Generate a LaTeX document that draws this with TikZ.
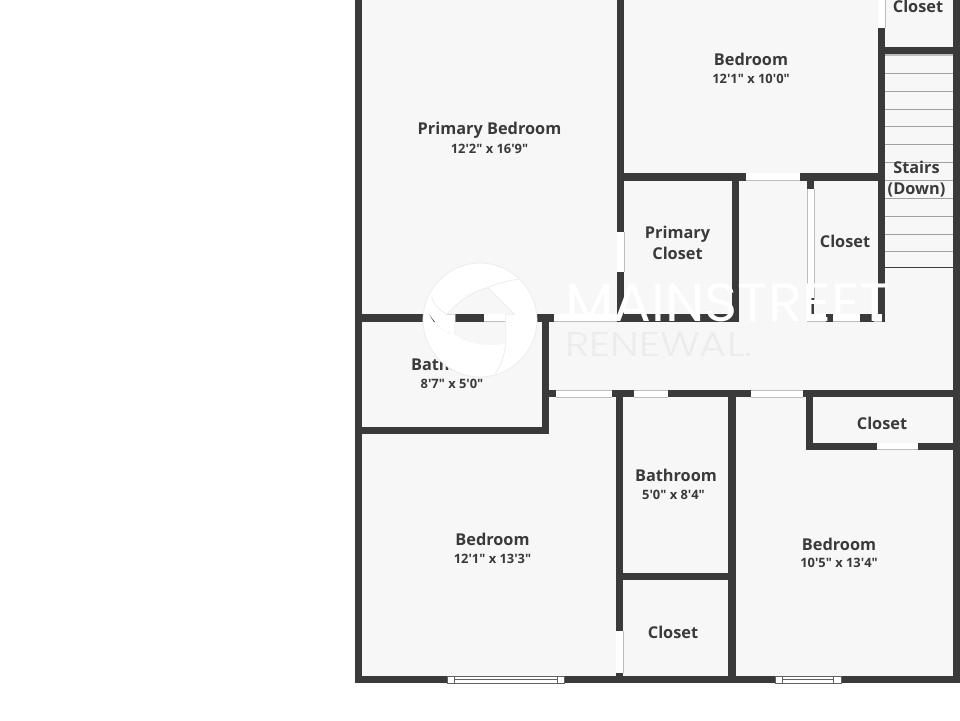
\documentclass[tikz,border=0pt]{standalone}
\usepackage{fontspec}
\usepackage{graphicx}
\setmainfont{Open Sans}
\newfontfamily\lblfont{Open Sans}
\newfontfamily\wmfont{Poppins}
\newfontfamily\wmthin{Poppins Light}
\definecolor{floorc}{HTML}{F7F7F7}
\definecolor{wallc}{HTML}{3A3A3A}
\definecolor{edgec}{HTML}{BDBDBD}
\definecolor{inkc}{HTML}{3A3A3A}
\definecolor{wmc}{HTML}{ECECEC}
\newcommand\wallbox[4]{\fill[wallfill] (#1,#2) rectangle (#3,#4);}
\newcommand\doorh[3]{\fill[white] (#1,#3-7.5) rectangle (#2,#3); \draw[dooredge] (#1,#3) -- (#2,#3);}
\newcommand\doorv[3]{\fill[white] (#1-7.5,#2) rectangle (#1,#3); \draw[dooredge] (#1,#2) -- (#1,#3);}
\newcommand\winbox[4]{\fill[white] (#1,676) rectangle (#4,683);
  \draw[winline] (#1,676) rectangle (#4,683.4);
  \draw[winline] (#2,676) -- (#2,683.4) (#3,676) -- (#3,683.4);
  \draw[winline] (#2,679) -- (#3,679);}
\tikzset{
  wallfill/.style={fill=wallc},
  dooredge/.style={draw=edgec,line width=.8pt},
  winline/.style={draw=wallc!80,line width=.6pt},
  treadline/.style={draw=edgec!85!black,line width=.9pt},
  roomname/.style={text=inkc,font=\lblfont\bfseries\fontsize{16.3}{20}\selectfont,inner sep=0pt,align=center},
  roomdim/.style={text=inkc,font=\lblfont\bfseries\fontsize{12.9}{15}\selectfont,inner sep=0pt},
  logoline/.style={draw=wmc,line width=.8pt},
}
\begin{document}
\begin{tikzpicture}[x=1pt,y=-1pt]
\useasboundingbox (0,0) rectangle (960,720);
\fill[white] (0,0) rectangle (960,720);
\fill[floorc] (355,0) rectangle (960,683);
% outer walls
\wallbox{355}{0}{362}{683}
\wallbox{355}{676}{960}{683}
\wallbox{953}{0}{960}{683}
% main vertical walls
\wallbox{617}{0}{624}{321}
\doorv{624.5}{232}{272}
\wallbox{878}{0}{885}{321}
\fill[white] (878,0) rectangle (885,28);
\draw[dooredge] (885,0) -- (885,28);
\wallbox{885}{47}{953}{54}
% stairs
\draw[edgec,line width=1.4pt] (885,55) -- (953,55);
\foreach \yy in {73,91,109,126.5,144,162,180,198,216,234,251}
  \draw[treadline] (885,\yy) -- (953,\yy);
\draw[wallc,line width=1pt] (885,267.5) -- (953,267.5);
% closets top row
\wallbox{617}{173}{885}{181}
\fill[white] (746,173) rectangle (800,180.5);
\draw[dooredge] (746,180.5) -- (800,180.5);
\wallbox{732}{181}{739}{321}
\wallbox{807}{181}{814}{189}
\fill[white] (807,189) rectangle (814,300);
\draw[dooredge] (807,189) -- (807,300) (814,189) -- (814,300);
\wallbox{807}{298}{814}{321}
% wall y 314-321
\wallbox{362}{314}{617}{321.5}
\doorh{484}{537}{321.5}
\doorh{554}{617}{321.5}
\wallbox{617}{314}{739}{321.5}
\wallbox{807}{314}{885}{321.5}
\doorh{807}{826}{321.5}
\doorh{833}{860}{321.5}
\doorh{874}{882}{321.5}
% bath
\wallbox{542}{314}{549}{433}
\wallbox{362}{426.5}{549}{433.5}
% hall lower wall
\wallbox{549}{390}{953}{397}
\fill[white] (556,390) rectangle (612,397);
\draw[dooredge] (556,390) -- (612,390) (556,397) -- (612,397);
\fill[white] (634,390) rectangle (668,397);
\draw[dooredge] (634,390) -- (668,390) (634,397) -- (668,397);
\fill[white] (751,390) rectangle (803,397);
\draw[dooredge] (751,390) -- (803,390) (751,397) -- (803,397);
% lower verticals
\wallbox{616}{397}{623}{676}
\fill[white] (616,631) rectangle (623,673);
\draw[dooredge] (623,631) -- (623,673);
\wallbox{728}{397}{736}{676}
\wallbox{623}{572.5}{728}{579.5}
% lower right closet
\wallbox{806}{397}{813}{450}
\wallbox{806}{442.5}{953}{449.5}
\fill[white] (877,442.5) rectangle (918,449.5);
\draw[dooredge] (877,449.5) -- (918,449.5);
% windows
\winbox{447}{454}{557}{564}
\winbox{775}{782}{833}{841}
% labels
\node[roomname] (n1) at (489.5,130.5) {Primary Bedroom};
\node[roomdim] (d1) at (489.5,148.5) {12'2" x 16'9"};
\node[roomname] (n2) at (751,59) {Bedroom};
\node[roomdim] (d2) at (751,78.5) {12'1" x 10'0"};
\node[roomname] (n3) at (918,6) {Closet};
\node[roomname] (n4) at (916.5,179) {Stairs\\[1pt](Down)};
\node[roomname] (n5) at (677.5,242.5) {Primary\\[1pt]Closet};
\node[roomname] (n6) at (845,241) {Closet};
\node[roomname] (n7) at (452,364.5) {Bathroom};
\node[roomdim] (d7) at (452,383.5) {8'7" x 5'0"};
\node[roomname] (n8) at (882,423) {Closet};
\node[roomname] (n9) at (676,475) {Bathroom};
\node[roomdim] (d9) at (673.5,494.5) {5'0" x 8'4"};
\node[roomname] (n10) at (492.5,539) {Bedroom};
\node[roomdim] (d10) at (492.5,558.5) {12'1" x 13'3"};
\node[roomname] (n11) at (839,544) {Bedroom};
\node[roomdim] (d11) at (839,562.5) {10'5" x 13'4"};
\node[roomname] (n12) at (673,632) {Closet};
% watermark logo
\begin{scope}[shift={(415,255)},x=0.3333pt,y=-0.3333pt]
\fill[white,even odd rule] (195,195) circle[radius=171]
  (218,98) -- (298,178) -- (272,178) -- (272,265) .. controls (240,275) and (170,275) .. (120,240)
  -- (120,178) -- (95,178) .. controls (130,140) and (170,110) .. (218,98) -- cycle
  (30,150) .. controls (45,190) and (75,225) .. (120,240) .. controls (80,235) and (50,205) .. (30,150) -- cycle;
\draw[logoline] (195,195) circle[radius=171];
\draw[logoline] (218,98) .. controls (245,85) and (280,78) .. (310,72);
\draw[logoline] (272,265) .. controls (270,300) and (258,330) .. (240,358);
\draw[logoline] (95,178) .. controls (75,165) and (60,155) .. (50,125);
\draw[logoline] (218,98) -- (298,178) -- (272,178) -- (272,265);
\draw[logoline] (120,240) -- (120,178) -- (95,178) .. controls (130,140) and (170,110) .. (218,98);
\end{scope}
% watermark text
\node[anchor=west,inner sep=0pt] (wm1) at (565,302.5) {\resizebox{325pt}{38pt}{\color{white}\wmfont MAINSTREET}};
\node[anchor=west,inner sep=0pt] (wm2) at (565,345) {\resizebox{187pt}{24pt}{\color{wmc}\wmthin RENEWAL.}};
\end{tikzpicture}
\end{document}
